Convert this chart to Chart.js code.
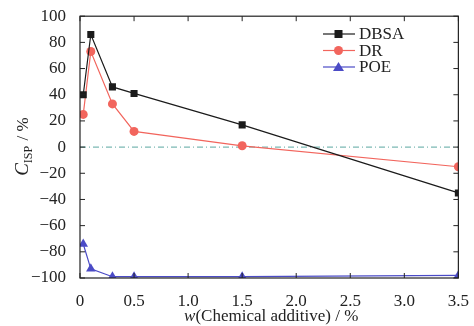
<!DOCTYPE html>
<html>
<head>
<meta charset="utf-8">
<script src="https://cdn.jsdelivr.net/npm/chart.js@4"></script>
<style>
  html, body { margin: 0; padding: 0; background: #fff; }
  #wrap { width: 474px; height: 326px; font-family: 'Liberation Serif', serif; }
</style>
</head>
<body>
<div id="wrap"><canvas id="myChart" width="474" height="326"></canvas></div>
<script>
// data
const wValues = [0.03, 0.1, 0.3, 0.5, 1.5, 3.5];
const dbsa = [40, 86, 46, 41, 17, -35];
const dr = [25, 73, 33, 12, 1, -15];
const poe = [-74, -93, -99, -99, -99, -98];
const seriesNames = ['DBSA', 'DR', 'POE'];
const xTicks = [0, 0.5, 1.0, 1.5, 2.0, 2.5, 3.0, 3.5];
const yTicks = [-100, -80, -60, -40, -20, 0, 20, 40, 60, 80, 100];

const colors = ['#1b1b1b', '#f2655d', '#4b4bc6'];
const styles = ['rect', 'circle', 'triangle'];
const FONT = "'Liberation Serif', 'DejaVu Serif', serif";

function toPoints(vals) {
  return wValues.map(function (x, i) { return { x: x, y: vals[i] }; });
}

const data = {
  datasets: [dbsa, dr, poe].map(function (vals, i) {
    return {
      label: seriesNames[i],
      data: toPoints(vals),
      borderColor: colors[i],
      backgroundColor: colors[i],
      borderWidth: 1.2,
      pointStyle: styles[i],
      pointRadius: i === 1 ? 4.5 : (i === 2 ? 5.5 : 5),
      pointBorderWidth: 0,
      tension: 0
    };
  })
};

// frame, inward ticks, zero line, legend, titles
const decor = {
  id: 'decor',
  beforeDatasetsDraw(chart) {
    const c = chart.ctx, a = chart.chartArea;
    const ys = chart.scales.y;
    const y0 = ys.getPixelForValue(0);
    c.save();
    c.strokeStyle = '#5aa6a0';
    c.lineWidth = 1;
    c.setLineDash([6, 3, 1, 3]);
    c.beginPath();
    c.moveTo(a.left, y0);
    c.lineTo(a.right, y0);
    c.stroke();
    c.restore();
  },
  afterDraw(chart) {
    const c = chart.ctx, a = chart.chartArea;
    const xs = chart.scales.x, ys = chart.scales.y;
    c.save();
    c.strokeStyle = '#222';
    c.lineWidth = 1.2;
    c.strokeRect(a.left, a.top, a.right - a.left, a.bottom - a.top);
    c.lineWidth = 1;
    c.beginPath();
    xTicks.forEach(function (t) {
      const px = xs.getPixelForValue(t);
      c.moveTo(px, a.bottom); c.lineTo(px, a.bottom - 5);
      c.moveTo(px, a.top); c.lineTo(px, a.top + 5);
    });
    yTicks.forEach(function (t) {
      const py = ys.getPixelForValue(t);
      c.moveTo(a.left, py); c.lineTo(a.left + 5, py);
      c.moveTo(a.right, py); c.lineTo(a.right - 5, py);
    });
    c.stroke();

    // legend
    c.font = '17px ' + FONT;
    c.textBaseline = 'middle';
    seriesNames.forEach(function (name, i) {
      const ly = 34 + i * 16.5;
      c.strokeStyle = colors[i];
      c.lineWidth = 1.2;
      c.beginPath();
      c.moveTo(323, ly); c.lineTo(355, ly);
      c.stroke();
      c.fillStyle = colors[i];
      c.beginPath();
      if (i === 0) { c.rect(334.5, ly - 4, 8, 8); }
      else if (i === 1) { c.arc(338.5, ly, 4.5, 0, Math.PI * 2); }
      else { c.moveTo(338.5, ly - 5); c.lineTo(344, ly + 4); c.lineTo(333, ly + 4); c.closePath(); }
      c.fill();
      c.fillStyle = '#222';
      c.fillText(name, 359, ly + 1);
    });

    // x title
    c.textBaseline = 'alphabetic';
    c.fillStyle = '#222';
    const xt1 = 'w', xt2 = '(Chemical additive) / %';
    c.font = 'italic 17px ' + FONT;
    const w1 = c.measureText(xt1).width;
    c.font = '17px ' + FONT;
    const w2 = c.measureText(xt2).width;
    let sx = (a.left + a.right) / 2 - (w1 + w2) / 2 + 2;
    c.font = 'italic 17px ' + FONT;
    c.fillText(xt1, sx, 321);
    c.font = '17px ' + FONT;
    c.fillText(xt2, sx + w1, 321);

    // y title
    c.translate(28, (a.top + a.bottom) / 2);
    c.rotate(-Math.PI / 2);
    c.font = 'italic 19px ' + FONT;
    const p1 = c.measureText('C').width;
    c.font = '12px ' + FONT;
    const p2 = c.measureText('ISP').width;
    c.font = '17px ' + FONT;
    const p3 = c.measureText(' / %').width;
    let ty = -(p1 + p2 + p3) / 2;
    c.font = 'italic 19px ' + FONT;
    c.fillText('C', ty, 0);
    c.font = '12px ' + FONT;
    c.fillText('ISP', ty + p1, 4);
    c.font = '17px ' + FONT;
    c.fillText(' / %', ty + p1 + p2 + 1, 0);
    c.restore();
  }
};

const config = {
  type: 'line',
  data,
  options: {
    responsive: false,
    animation: false,
    layout: { padding: { top: 16, right: 13, left: 0, bottom: 0 } },
    plugins: { legend: { display: false }, tooltip: { enabled: false } },
    scales: {
      x: {
        type: 'linear',
        min: 0, max: 3.5,
        afterBuildTicks: function (s) { s.ticks = xTicks.map(function (v) { return { value: v }; }); },
        afterFit: function (s) { s.height = 48; },
        grid: { display: false },
        border: { display: false },
        ticks: {
          color: '#222',
          font: { family: FONT, size: 17 },
          padding: 5,
          maxRotation: 0,
          callback: function (v) { return v === 0 ? '0' : v.toFixed(1); }
        }
      },
      y: {
        type: 'linear',
        min: -100, max: 100,
        afterBuildTicks: function (s) { s.ticks = yTicks.map(function (v) { return { value: v }; }); },
        afterFit: function (s) { s.width = 80; },
        grid: { display: false },
        border: { display: false },
        ticks: {
          color: '#222',
          font: { family: FONT, size: 17 },
          padding: 6,
          callback: function (v) { return String(v).replace('-', '\u2212'); }
        }
      }
    }
  },
  plugins: [decor]
};

let myChart;
document.fonts.load("17px 'Liberation Serif'").then(function () {
  myChart = new Chart(document.getElementById('myChart'), config);
}, function () {
  myChart = new Chart(document.getElementById('myChart'), config);
});
</script>
</body>
</html>
